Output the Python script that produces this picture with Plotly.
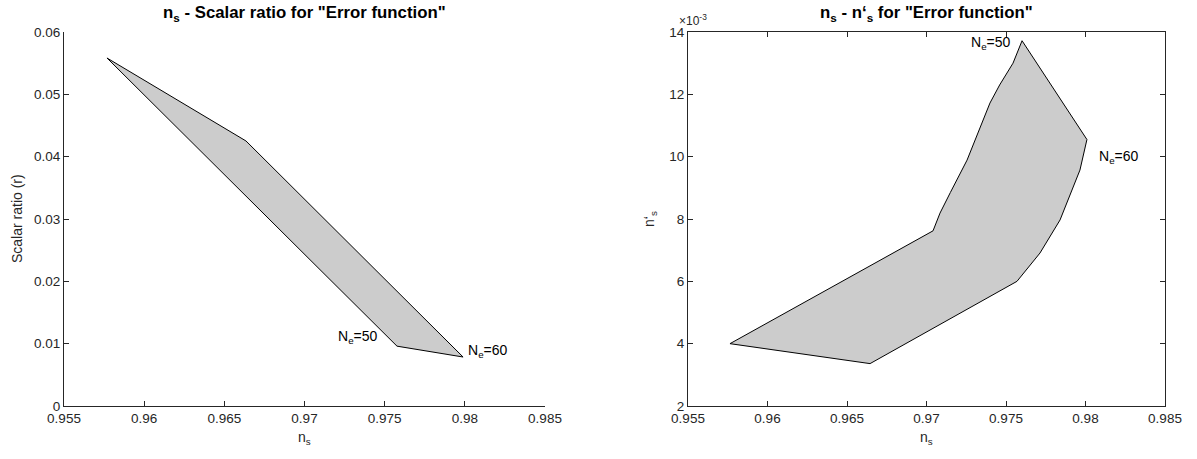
import plotly.graph_objects as go

# Left panel: boundary of the region (n_s, r)
left_ns = [0.95768, 0.96635, 0.97989, 0.97577, 0.95768]
left_r = [0.05583, 0.04252, 0.00786, 0.00960, 0.05583]

# Right panel: boundary of the region (n_s, n's) in units of 1e-3
right_ns = [0.95764, 0.96645, 0.97569, 0.97714, 0.97840, 0.97965, 0.98009,
            0.97601, 0.97544, 0.97460, 0.97399, 0.97255, 0.97150, 0.97085, 0.97041, 0.95764]
right_nps = [4.00, 3.36, 6.00, 6.91, 7.97, 9.57, 10.55,
             13.72, 13.00, 12.30, 11.72, 9.89, 8.85, 8.19, 7.62, 4.00]

x_ticks = [0.955, 0.96, 0.965, 0.97, 0.975, 0.98, 0.985]
x_labels = ["0.955", "0.96", "0.965", "0.97", "0.975", "0.98", "0.985"]
left_y_ticks = [0, 0.01, 0.02, 0.03, 0.04, 0.05, 0.06]
left_y_labels = ["0", "0.01", "0.02", "0.03", "0.04", "0.05", "0.06"]
right_y_ticks = [2, 4, 6, 8, 10, 12, 14]
right_y_labels = ["2", "4", "6", "8", "10", "12", "14"]

FONT = "Liberation Sans, Arial, sans-serif"
AX = "#262626"
FILL = "#cccccc"
W, H = 1197, 459


def fx(px):
    return px / W


def fy(py):
    return 1 - py / H


fig = go.Figure()
fig.add_trace(go.Scatter(x=left_ns, y=left_r, mode="lines", fill="toself",
                         fillcolor=FILL, line=dict(color="black", width=1),
                         xaxis="x", yaxis="y", hoverinfo="skip", showlegend=False))
fig.add_trace(go.Scatter(x=right_ns, y=right_nps, mode="lines", fill="toself",
                         fillcolor=FILL, line=dict(color="black", width=1),
                         xaxis="x2", yaxis="y2", hoverinfo="skip", showlegend=False))

common = dict(showgrid=False, zeroline=False, ticks="inside", ticklen=5,
              tickcolor=AX, linecolor=AX, linewidth=1, showline=True,
              automargin=False,
              tickfont=dict(family=FONT, size=13.5, color=AX))

fig.update_layout(
    template="none",
    width=W, height=H,
    margin=dict(l=0, r=0, t=0, b=0, pad=0),
    paper_bgcolor="white", plot_bgcolor="white",
    font=dict(family=FONT, color=AX),
    xaxis=dict(domain=[fx(64), fx(545)], range=[0.955, 0.985],
               tickvals=x_ticks, ticktext=x_labels, anchor="y", **common),
    yaxis=dict(domain=[fy(406), fy(32)], range=[0, 0.06],
               tickvals=left_y_ticks, ticktext=left_y_labels, anchor="x", **common),
    xaxis2=dict(domain=[fx(688), fx(1165)], range=[0.955, 0.985],
                tickvals=x_ticks, ticktext=x_labels, anchor="y2", mirror="ticks", **common),
    yaxis2=dict(domain=[fy(406), fy(32)], range=[2, 14],
                tickvals=right_y_ticks, ticktext=right_y_labels, anchor="x2",
                mirror="ticks", **common),
)


def pa(text, px, py, size, color=AX, angle=0, xanchor="center", yanchor="middle"):
    return dict(text=text, x=fx(px), y=fy(py), xref="paper", yref="paper",
                xanchor=xanchor, yanchor=yanchor, showarrow=False, textangle=angle,
                font=dict(size=size, color=color, family=FONT))


ann = []
# Titles
ann.append(pa('<b>n<sub>s</sub> - Scalar ratio for "Error function"</b>', 304.5, 13, 16.8, "black"))
ann.append(pa('<b>n<sub>s</sub> - n‘<sub>s</sub> for "Error function"</b>', 926.5, 13, 16.8, "black"))
# Axis titles
ann.append(pa("n<sub>s</sub>", 304.5, 438, 14))
ann.append(pa("n<sub>s</sub>", 926.5, 438, 14))
ann.append(pa("Scalar ratio (r)", 17, 219, 14, angle=-90))
ann.append(pa("n‘<sub>s</sub>", 650, 219, 14, angle=-90))
ann.append(pa("×10<sup>-3</sup>", 677, 20, 12, xanchor="left"))


def da(text, x, y, xr, yr, xanchor):
    return dict(text=text, x=x, y=y, xref=xr, yref=yr, xanchor=xanchor, yanchor="middle",
                showarrow=False, font=dict(size=14, color="black", family=FONT))


# Point labels
ann.append(da("N<sub>e</sub>=50", 0.97471, 0.0110, "x", "y", "right"))
ann.append(da("N<sub>e</sub>=60", 0.98008, 0.0088, "x", "y", "left"))
ann.append(da("N<sub>e</sub>=50", 0.97544, 13.65, "x2", "y2", "right"))
ann.append(da("N<sub>e</sub>=60", 0.98072, 10.0, "x2", "y2", "left"))
fig.update_layout(annotations=ann)

fig.write_html("out.html", config={"displayModeBar": False},
               post_script="document.body.style.margin='0';document.body.style.padding='0';")
